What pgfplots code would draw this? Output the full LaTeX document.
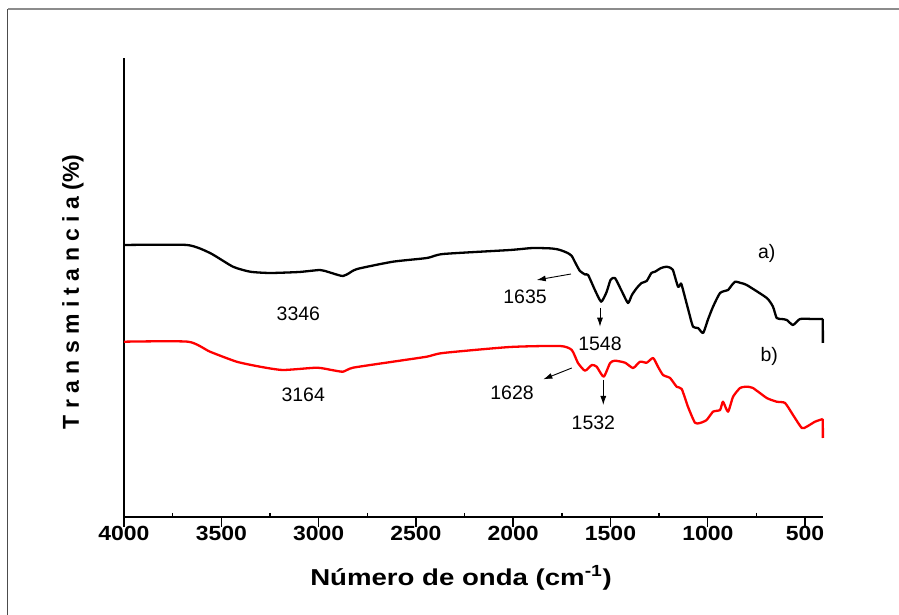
\documentclass[border=0pt]{standalone}
\usepackage{pgfplots}
\pgfplotsset{compat=1.18}
\usepackage{fontspec}
\setmainfont{Liberation Sans}
\usetikzlibrary{arrows.meta}
\begin{document}
\begin{tikzpicture}
\begin{axis}[
  at={(0,0)}, anchor=south west,
  scale only axis, width=699pt, height=459pt,
  x dir=reverse, xmin=408, xmax=4000, ymin=0, ymax=459,
  axis lines*=left,
  axis line style={line width=1.8pt},
  xtick={500,1000,...,4000},
  minor x tick num=1,
  ytick=\empty,
  minor ytick={19.3,43.77,...,436},
  tick align=outside,
  major tick length=10pt,
  minor tick length=-4pt,
  every tick/.style={black, line width=1.4pt},
  /pgf/number format/assume math mode=true,
  /pgf/number format/set thousands separator={},
  xticklabel={\scalebox{1.12}[1]{\pgfmathprintnumber{\tick}}},
  xticklabel style={font=\bfseries\fontsize{20.5}{24}\selectfont, yshift=4pt},
  clip=false,
]
\addplot[black, line width=2.3pt, line join=round, smooth, tension=0.35] coordinates {
(4000,272) (3676,272) (3558,264) (3440,250.3) (3352,245.3) (3250,244) (3100,245)
(2993,247) (2950,245) (2900,242) (2875,241) (2850,243) (2802,248) (2618,255.3)
(2443,259) (2360,263) (2016,267) (1900,269) (1800,268.5) (1759,267) (1720,264)
(1699,261) (1680,254) (1657,246) (1630,242.5) (1615,242) (1580,227) (1548,215.3)
(1520,225) (1500,237) (1477,239) (1440,225) (1410,214) (1390,222) (1365,229)
(1340,234) (1314,236) (1290,244) (1271,245.3) (1240,249) (1211,250.3) (1190,249)
(1179,247) (1153,230.3) (1140,233) (1134,232) (1100,207) (1076,190.3) (1050,189)
(1024,184) (1000,197) (973,210.3) (937,224) (896,227) (880,231) (860,235.3)
(830,234) (800,232) (697,219) (665,210.3) (646,199) (620,198) (594,197) (562,192)
(526,198) (459,198) (409,198)
};
\addplot[black, line width=2.3pt] coordinates {(409,198) (408.5,174)};
\addplot[red, line width=2.3pt, line join=round, smooth, tension=0.35] coordinates {
(4000,175.3) (3671,175.3) (3558,165.3) (3421,155.3) (3301,150.3) (3183,147)
(3010,149.3) (2933,147) (2875,145.3) (2823,149.3) (2618,155.3) (2444,160.3)
(2361,164) (2016,170) (1759,171) (1699,167) (1667,154) (1631,146.3) (1596,152)
(1571,150.3) (1535,140.3) (1502,154) (1477,156.3) (1425,154.3) (1384,149)
(1348,155.3) (1314,154.3) (1281,159) (1256,150.3) (1230,142) (1194,139)
(1160,130.3) (1134,128) (1102,110.3) (1066,94.3) (1040,94) (1006,97) (973,105.3)
(937,107) (922,115.3) (896,105.3) (870,120.3) (834,129) (800,130.3) (768,129)
(697,119) (646,115.3) (603,114) (562,102) (517,89) (492,90.3) (449,95.3)
(409,98)
};
\addplot[red, line width=2.3pt] coordinates {(409,98) (408.5,79)};
\begin{scope}[every node/.style={font=\fontsize{19.5}{22}\selectfont}]
\node at (axis cs:3104,203.7) {3346};
\node at (axis cs:3079,122.7) {3164};
\node at (axis cs:1939,220.3) {1635};
\node at (axis cs:1554,173.7) {1548};
\node at (axis cs:2006,124.3) {1628};
\node at (axis cs:1588,94.3) {1532};
\node at (axis cs:697,263.7) {a)};
\node at (axis cs:684,161) {b)};
\end{scope}
\draw[line width=0.9pt, -{Latex[length=9pt,width=6pt]}] (axis cs:1703,243) -- (axis cs:1879,237);
\draw[line width=0.9pt, -{Latex[length=9pt,width=6pt]}] (axis cs:1554,209) -- (axis cs:1554,190.3);
\draw[line width=0.9pt, -{Latex[length=9pt,width=6pt]}] (axis cs:1699,149) -- (axis cs:1845,137.7);
\draw[line width=0.9pt, -{Latex[length=9pt,width=6pt]}] (axis cs:1537,137) -- (axis cs:1537,112);
\end{axis}
\draw[line width=1pt, black!70] (-116pt,-98pt) -- (-116pt,508pt);
\draw[line width=2pt, black!45] (-116pt,508pt) -- (775pt,508pt);
\node[font=\bfseries\fontsize{23}{28}\selectfont] at (337pt,-61pt) {\scalebox{1.2}[1]{Número de onda (cm\textsuperscript{-1})}};
\node[rotate=90, font=\bfseries\fontsize{23}{28}\selectfont] at (-51pt,225pt) {T r a n s m i t a n c i a (\%)};
\pgfresetboundingbox
\useasboundingbox (-124pt,-98pt) rectangle (775pt,517pt);
\end{tikzpicture}
\end{document}
